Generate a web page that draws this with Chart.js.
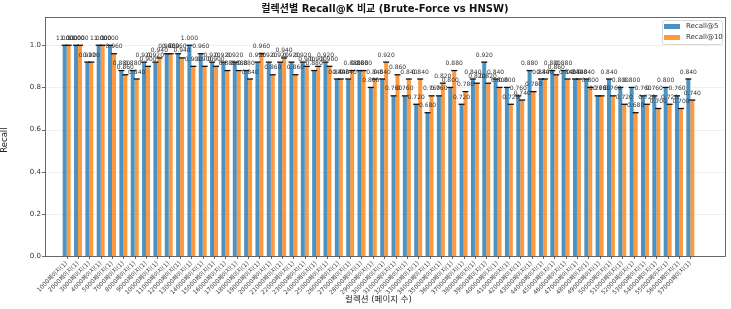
<!DOCTYPE html>
<html>
<head>
<meta charset="utf-8">
<script src="https://cdn.jsdelivr.net/npm/chart.js@4.4.1/dist/chart.umd.min.js"></script>
<style>
  html, body { margin: 0; padding: 0; background: #fff; }
  canvas { display: block; }
</style>
</head>
<body>
<canvas id="recallChart" width="731" height="309"></canvas>
<script>
// 컬렉션 (페이지 수)
const pages = [
  1000, 2000, 3000, 4000, 5000, 7000, 8000, 9000, 10000, 11000,
  12000, 13000, 14000, 15000, 16000, 17000, 18000, 19000, 20000, 21000,
  22000, 23000, 24000, 25000, 26000, 27000, 28000, 29000, 30000, 31000,
  32000, 33000, 34000, 35000, 36000, 37000, 38000, 39000, 40000, 41000,
  42000, 43000, 44000, 45000, 46000, 47000, 48000, 49000, 50000, 51000,
  52000, 53000, 54000, 55000, 56000, 57000,
];
const labels = pages.map((p) => p + "페이지(1)");

const recallAt5 = [
  1.00, 1.00, 0.92, 1.00, 1.00, 0.88, 0.88, 0.92, 0.92, 0.96,
  0.96, 1.00, 0.96, 0.92, 0.92, 0.92, 0.88, 0.92, 0.92, 0.92,
  0.92, 0.92, 0.88, 0.92, 0.84, 0.84, 0.88, 0.80, 0.84, 0.76,
  0.76, 0.72, 0.68, 0.76, 0.80, 0.72, 0.84, 0.92, 0.84, 0.80,
  0.76, 0.88, 0.84, 0.88, 0.88, 0.84, 0.84, 0.76, 0.84, 0.80,
  0.80, 0.76, 0.76, 0.80, 0.76, 0.84,
];
const recallAt10 = [
  1.00, 1.00, 0.92, 1.00, 0.96, 0.86, 0.84, 0.90, 0.94, 0.96,
  0.94, 0.90, 0.90, 0.90, 0.88, 0.88, 0.84, 0.96, 0.86, 0.94,
  0.86, 0.90, 0.90, 0.90, 0.84, 0.88, 0.88, 0.84, 0.92, 0.86,
  0.84, 0.84, 0.76, 0.82, 0.88, 0.78, 0.82, 0.82, 0.80, 0.72,
  0.74, 0.78, 0.84, 0.86, 0.84, 0.84, 0.80, 0.76, 0.76, 0.72,
  0.68, 0.72, 0.70, 0.72, 0.70, 0.74,
];
const yTicks = [0, 0.2, 0.4, 0.6, 0.8, 1.0];

const FONT = "'DejaVu Sans', 'Noto Sans CJK KR', sans-serif";
const BLUE = "rgba(31, 119, 180, 0.8)";
const ORANGE = "rgba(255, 127, 14, 0.8)";
// 축 테두리 (matplotlib 스타일)
const box = { left: 45, right: 725, top: 17, bottom: 256 };

const decor = {
  id: "decor",
  beforeDatasetsDraw(chart) {
    const { ctx, scales: { y } } = chart;
    ctx.save();
    ctx.strokeStyle = "rgba(0, 0, 0, 0.08)";
    ctx.lineWidth = 0.8;
    yTicks.forEach((v) => {
      const py = Math.round(y.getPixelForValue(v)) + 0.5;
      ctx.beginPath();
      ctx.moveTo(box.left, py);
      ctx.lineTo(box.right, py);
      ctx.stroke();
    });
    ctx.restore();
  },
  afterDatasetsDraw(chart) {
    const { ctx, scales: { x, y } } = chart;
    ctx.save();

    // 캡 + 값 라벨
    chart.data.datasets.forEach((ds, i) => {
      chart.getDatasetMeta(i).data.forEach((bar, j) => {
        ctx.strokeStyle = "#111";
        ctx.lineWidth = 1.3;
        ctx.beginPath();
        ctx.moveTo(bar.x - 3, bar.y);
        ctx.lineTo(bar.x + 3, bar.y);
        ctx.stroke();
        ctx.fillStyle = "#333";
        ctx.font = "6px " + FONT;
        ctx.textAlign = "center";
        ctx.textBaseline = "bottom";
        ctx.fillText(ds.data[j].toFixed(3), bar.x, bar.y - 4);
      });
    });

    // 테두리
    ctx.strokeStyle = "#444";
    ctx.lineWidth = 0.8;
    ctx.strokeRect(box.left + 0.5, box.top + 0.5, box.right - box.left, box.bottom - box.top);

    // 눈금
    ctx.beginPath();
    yTicks.forEach((v) => {
      const py = Math.round(y.getPixelForValue(v)) + 0.5;
      ctx.moveTo(box.left - 3, py);
      ctx.lineTo(box.left, py);
    });
    labels.forEach((_, i) => {
      const px = Math.round(x.getPixelForValue(i)) + 0.5;
      ctx.moveTo(px, box.bottom);
      ctx.lineTo(px, box.bottom + 3);
    });
    ctx.stroke();

    // 범례
    const lx = 662, ly = 20;
    ctx.fillStyle = "rgba(255,255,255,0.85)";
    ctx.strokeStyle = "#d0d0d0";
    ctx.lineWidth = 0.8;
    ctx.beginPath();
    ctx.roundRect(lx + 0.5, ly + 0.5, 60, 24, 2);
    ctx.fill();
    ctx.stroke();
    ctx.fillStyle = BLUE;
    ctx.fillRect(lx + 2, ly + 4, 16, 5);
    ctx.fillStyle = ORANGE;
    ctx.fillRect(lx + 2, ly + 15, 16, 5);
    ctx.fillStyle = "#333";
    ctx.font = "7px " + FONT;
    ctx.textAlign = "left";
    ctx.textBaseline = "middle";
    ctx.fillText("Recall@5", lx + 24, ly + 6.5);
    ctx.fillText("Recall@10", lx + 24, ly + 17.5);

    // 제목
    ctx.fillStyle = "#111";
    ctx.font = "bold 10px " + FONT;
    ctx.textAlign = "center";
    ctx.fillText("컬렉션별 Recall@K 비교 (Brute-Force vs HNSW)", 385, 9);

    ctx.restore();
  },
};

new Chart(document.getElementById("recallChart"), {
  type: "bar",
  data: {
    labels: labels,
    datasets: [
      {
        label: "Recall@5",
        data: recallAt5,
        backgroundColor: BLUE,
        categoryPercentage: 0.7,
        barPercentage: 1.0,
      },
      {
        label: "Recall@10",
        data: recallAt10,
        backgroundColor: ORANGE,
        categoryPercentage: 0.7,
        barPercentage: 1.0,
      },
    ],
  },
  options: {
    responsive: false,
    animation: false,
    devicePixelRatio: 1,
    layout: { padding: { top: 17, right: 35, left: 0, bottom: 0 } },
    plugins: { legend: { display: false }, tooltip: { enabled: false } },
    scales: {
      x: {
        grid: { display: false, drawTicks: false },
        border: { display: false },
        ticks: {
          autoSkip: false,
          minRotation: 45,
          maxRotation: 45,
          font: { size: 6, family: FONT },
          color: "#444",
          padding: 4,
        },
        title: {
          display: true,
          text: "컬렉션 (페이지 수)",
          font: { size: 8.5, family: FONT },
          color: "#222",
          padding: { top: 0, bottom: 4 },
        },
        afterFit(s) { s.height = 53; },
      },
      y: {
        min: 0,
        max: 1.1,
        grid: { display: false, drawTicks: false },
        border: { display: false },
        afterBuildTicks(s) { s.ticks = yTicks.map((v) => ({ value: v })); },
        ticks: {
          callback: (v) => v.toFixed(1),
          font: { size: 7, family: FONT },
          color: "#333",
          padding: 20,
        },
        title: {
          display: true,
          text: "Recall",
          font: { size: 8.5, family: FONT },
          color: "#222",
          padding: { top: 0, bottom: 0 },
        },
        afterFit(s) { s.width = 61; },
      },
    },
  },
  plugins: [decor],
});
</script>
</body>
</html>
